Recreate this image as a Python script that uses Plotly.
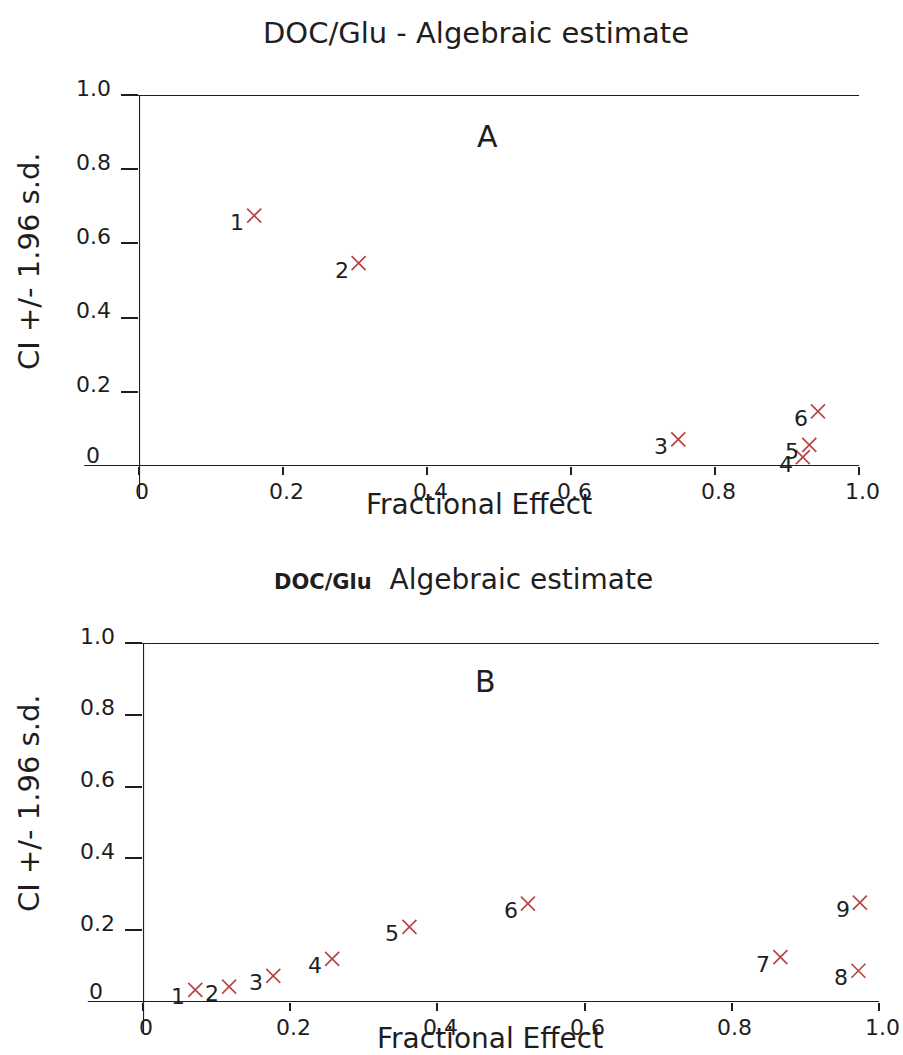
import plotly.graph_objects as go

# ---- data ----
a_x = [0.160, 0.305, 0.749, 0.922, 0.931, 0.943]
a_y = [0.675, 0.547, 0.072, 0.024, 0.057, 0.147]
a_labels = ["1", "2", "3", "4", "5", "6"]

b_x = [0.071, 0.117, 0.177, 0.257, 0.362, 0.523, 0.866, 0.972, 0.974]
b_y = [0.034, 0.043, 0.073, 0.120, 0.209, 0.274, 0.125, 0.087, 0.277]
b_labels = ["1", "2", "3", "4", "5", "6", "7", "8", "9"]

x_tickvals = [0, 0.2, 0.4, 0.6, 0.8, 1.0]
x_ticktext = ["0", "0.2", "0.4", "0.6", "0.8", "1.0"]
y_tickvals = [0.2, 0.4, 0.6, 0.8, 1.0]
y_ticktext = ["0.2", "0.4", "0.6", "0.8", "1.0"]

title_a = "DOC/Glu - Algebraic estimate"
title_b_bold = "DOC/Glu"
title_b_rest = "Algebraic estimate"
x_title = "Fractional Effect"
y_title = "CI +/- 1.96 s.d."

W, H = 903, 1055
FONT = "DejaVu Sans"
INK = "#1e1e1e"
MARK = "#b84545"

fig = go.Figure()

marker = dict(symbol="x-thin", size=14, line=dict(width=1.7, color=MARK), color=MARK)
fig.add_trace(go.Scatter(x=a_x, y=a_y, mode="markers", marker=marker,
                         xaxis="x", yaxis="y", showlegend=False, cliponaxis=False))
fig.add_trace(go.Scatter(x=b_x, y=b_y, mode="markers", marker=marker,
                         xaxis="x2", yaxis="y2", showlegend=False, cliponaxis=False))

# panel pixel boxes (left, right, top, bottom)
A = (139, 859, 95, 466)
B = (143, 879, 643, 1002)


def dom_x(box):
    return [box[0] / W, box[1] / W]


def dom_y(box):
    return [1 - box[3] / H, 1 - box[2] / H]


xaxis_common = dict(range=[0, 1], showgrid=False, zeroline=False, showline=False,
                    tickvals=x_tickvals, ticks="outside", showticklabels=False,
                    ticklen=8, tickwidth=2, tickcolor=INK, fixedrange=True, automargin=False)
yaxis_common = dict(range=[0, 1], showgrid=False, zeroline=False, showline=False,
                    tickvals=y_tickvals, ticks="outside", showticklabels=False,
                    ticklen=17, tickwidth=2, tickcolor=INK, fixedrange=True, automargin=False)

fig.update_layout(
    width=W, height=H, autosize=False,
    margin=dict(l=0, r=0, t=0, b=0, autoexpand=False),
    paper_bgcolor="white", plot_bgcolor="white",
    xaxis=dict(domain=dom_x(A), anchor="y", **xaxis_common),
    yaxis=dict(domain=dom_y(A), anchor="x", **yaxis_common),
    xaxis2=dict(domain=dom_x(B), anchor="y2", **xaxis_common),
    yaxis2=dict(domain=dom_y(B), anchor="x2", **yaxis_common),
)

shapes = []
for xr, yr, ext_left, ext_down in (("x", "y", 0.076, 0.089), ("x2", "y2", 0.075, 0.086)):
    line = dict(color=INK, width=2.2)
    # bottom axis line (extends left past the y axis)
    shapes.append(dict(type="line", xref=xr + " domain", yref=yr, x0=-ext_left, x1=1,
                       y0=0, y1=0, line=line, layer="above"))
    # top line at 1.0
    shapes.append(dict(type="line", xref=xr + " domain", yref=yr, x0=-0.023, x1=1,
                       y0=1, y1=1, line=line, layer="above"))
    # y axis line (extends a bit below the x axis)
    shapes.append(dict(type="line", xref=xr, yref=yr + " domain", x0=0, x1=0,
                       y0=-ext_down, y1=1, line=line, layer="above"))
fig.update_layout(shapes=shapes)

C = dict(xanchor="center", yanchor="middle", showarrow=False)
ann = []
lab_font = dict(family=FONT, size=22, color=INK)
tick_font = dict(family=FONT, size=22, color=INK)
for xs, ys, labs, xr, yr in ((a_x, a_y, a_labels, "x", "y"), (b_x, b_y, b_labels, "x2", "y2")):
    for xv, yv, t in zip(xs, ys, labs):
        ann.append(dict(x=xv, y=yv, xref=xr, yref=yr, text=t,
                        xshift=-17, yshift=-7, font=lab_font, **C))
    # tick labels of the x axis
    for tv, tt in zip(x_tickvals, x_ticktext):
        ann.append(dict(x=tv, y=0, xref=xr, yref=yr, text=tt, xshift=3, yshift=-25,
                        font=tick_font, **C))
    # tick labels of the y axis
    for tv, tt in zip(y_tickvals, y_ticktext):
        ann.append(dict(x=0, y=tv, xref=xr, yref=yr, text=tt, xshift=-26, yshift=7,
                        font=tick_font, xanchor="right", yanchor="middle", showarrow=False))
    # the "0" label of the y axis
    ann.append(dict(x=-0.064, y=0, xref=xr + " domain", yref=yr, text="0",
                    yshift=11, font=tick_font, **C))

# panel letters
ann.append(dict(x=(487 - A[0]) / (A[1] - A[0]), y=(A[3] - 136) / (A[3] - A[2]),
                xref="x domain", yref="y domain", text="A",
                font=dict(family=FONT, size=30, color=INK), **C))
ann.append(dict(x=(485 - B[0]) / (B[1] - B[0]), y=(B[3] - 681) / (B[3] - B[2]),
                xref="x2 domain", yref="y2 domain", text="B",
                font=dict(family=FONT, size=30, color=INK), **C))

# titles
ann.append(dict(x=476 / W, y=1 - 33 / H, xref="paper", yref="paper", text=title_a,
                font=dict(family=FONT, size=29, color=INK), **C))
ann.append(dict(x=463 / W, y=1 - 579 / H, xref="paper", yref="paper",
                text=f"<b><span style='font-size:21px'>{title_b_bold}</span></b>  {title_b_rest}",
                font=dict(family=FONT, size=28, color=INK), **C))

# axis titles
for cy, cx, xy in ((261, 479, 505), (803, 490, 1038)):
    ann.append(dict(x=29 / W, y=1 - cy / H, xref="paper", yref="paper", text=y_title,
                    textangle=-90, font=dict(family=FONT, size=29, color=INK), **C))
    ann.append(dict(x=cx / W, y=1 - xy / H, xref="paper", yref="paper", text=x_title,
                    font=dict(family=FONT, size=28, color=INK), **C))

fig.update_layout(annotations=ann)

fig.write_html(
    "out.html",
    config={"responsive": False, "displayModeBar": False},
    post_script="document.body.style.margin='0';document.body.style.overflow='hidden';",
)
